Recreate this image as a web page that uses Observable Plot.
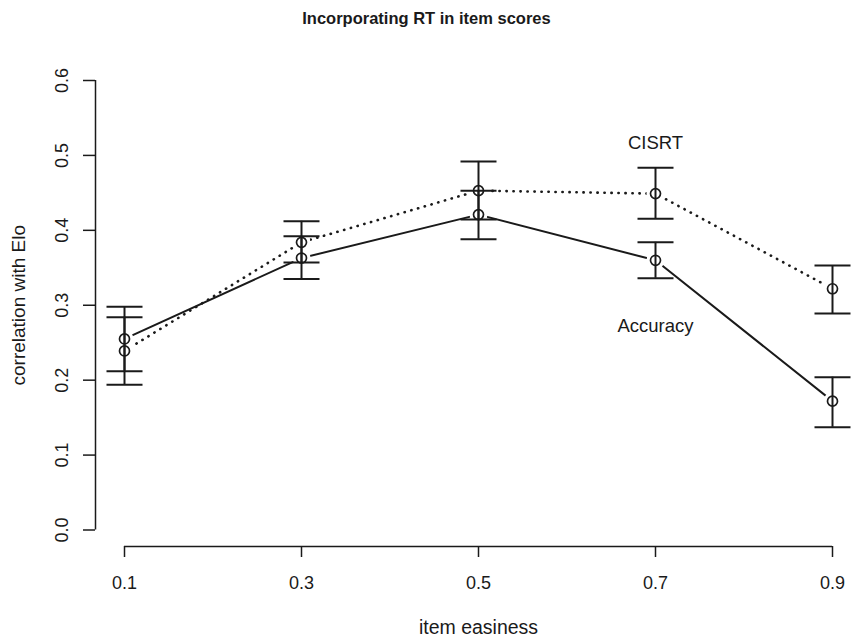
<!DOCTYPE html>
<html>
<head>
<meta charset="utf-8">
<script src="https://cdn.jsdelivr.net/npm/d3@7"></script>
<script src="https://cdn.jsdelivr.net/npm/@observablehq/plot@0.6"></script>
<style>
  html, body { margin: 0; padding: 0; background: #fff; }
  svg { display: block; }
</style>
</head>
<body>
<div id="chart"></div>
<script>
// ---- data ----
const easiness   = [0.1, 0.3, 0.5, 0.7, 0.9];
const accuracy   = [0.255, 0.363, 0.421, 0.360, 0.172];
const accuracyLo = [0.212, 0.335, 0.388, 0.336, 0.137];
const accuracyHi = [0.298, 0.392, 0.453, 0.384, 0.204];
const cisrt      = [0.239, 0.384, 0.453, 0.449, 0.322];
const cisrtLo    = [0.194, 0.357, 0.4145, 0.4155, 0.289];
const cisrtHi    = [0.284, 0.412, 0.492, 0.4836, 0.353];
const xTicks = [0.1, 0.3, 0.5, 0.7, 0.9];
const yTicks = [0.0, 0.1, 0.2, 0.3, 0.4, 0.5, 0.6];
const seriesLabels = ["CISRT", "Accuracy"];
const labelX = [0.7, 0.7];
const labelY = [0.517, 0.272];
const titleText = "Incorporating RT in item scores";
const xLabel = "item easiness";
const yLabel = "correlation with Elo";

const accRows = easiness.map((x, i) => ({series: "Accuracy", x, y: accuracy[i], lo: accuracyLo[i], hi: accuracyHi[i]}));
const cisRows = easiness.map((x, i) => ({series: "CISRT", x, y: cisrt[i], lo: cisrtLo[i], hi: cisrtHi[i]}));
const allRows = accRows.concat(cisRows);
const labelRows = seriesLabels.map((t, i) => ({t, x: labelX[i], y: labelY[i]}));

const ink = "#1a1a1a";
const font = "'Liberation Sans', Arial, Helvetica, sans-serif";
const capSymbol = {draw(ctx) { ctx.moveTo(-18, 0); ctx.lineTo(18, 0); }};
const fmt = d3.format(".1f");
const xMin = xTicks[0], xMax = xTicks[xTicks.length - 1];
const yMin = yTicks[0], yMax = yTicks[yTicks.length - 1];

const chart = Plot.plot({
  width: 852,
  height: 642,
  marginTop: 80,
  marginBottom: 112.5,
  marginLeft: 124,
  marginRight: 20,
  style: {fontFamily: font, color: ink, background: "white"},
  x: {domain: [xMin, xMax]},
  y: {domain: [yMin, yMax]},
  marks: [
    // axes (R style, detached from the plot region)
    Plot.axisY(yTicks, {tickSize: 12, tickFormat: () => "", label: null, dx: -29, stroke: ink, strokeWidth: 1.5}),
    Plot.ruleX([xMin], {y1: yMin, y2: yMax, dx: -29, stroke: ink, strokeWidth: 1.5}),
    Plot.text(yTicks, {y: d => d, text: d => fmt(d), frameAnchor: "left", textAnchor: "middle", dx: -62, rotate: -90, fontSize: 18, fill: ink}),
    Plot.axisX(xTicks, {tickSize: 11, tickFormat: () => "", label: null, dy: 16.5, stroke: ink, strokeWidth: 1.5}),
    Plot.ruleY([yMin], {x1: xMin, x2: xMax, dy: 16.5, stroke: ink, strokeWidth: 1.5}),
    Plot.text(xTicks, {x: d => d, text: d => fmt(d), frameAnchor: "bottom", dy: 59, fontSize: 18, fill: ink}),
    // titles
    Plot.text([titleText], {frameAnchor: "top", dx: -52, dy: -68, fontSize: 16.5, fontWeight: "bold", fill: ink}),
    Plot.text([xLabel], {frameAnchor: "bottom", dy: 104, fontSize: 19.5, fill: ink}),
    Plot.text([yLabel], {frameAnchor: "left", textAnchor: "middle", dx: -106, rotate: -90, fontSize: 19, fill: ink}),
    // series lines
    Plot.line(accRows, {x: "x", y: "y", stroke: ink, strokeWidth: 2}),
    Plot.line(cisRows, {x: "x", y: "y", stroke: ink, strokeWidth: 2.6, strokeLinecap: "round", strokeDasharray: "0.3,6.7"}),
    // gaps around points (R type="b")
    Plot.dot(allRows, {x: "x", y: "y", r: 5, fill: "white", stroke: "white", strokeWidth: 8}),
    // error bars
    Plot.ruleX(allRows, {x: "x", y1: "lo", y2: "hi", stroke: ink, strokeWidth: 2}),
    Plot.dot(allRows, {x: "x", y: "lo", symbol: capSymbol, fill: "none", stroke: ink, strokeWidth: 2}),
    Plot.dot(allRows, {x: "x", y: "hi", symbol: capSymbol, fill: "none", stroke: ink, strokeWidth: 2}),
    // points
    Plot.dot(allRows, {x: "x", y: "y", r: 5, fill: "none", stroke: ink, strokeWidth: 1.7}),
    // series labels
    Plot.text(labelRows, {x: "x", y: "y", text: "t", fontSize: 18.5, fill: ink})
  ]
});
document.getElementById("chart").appendChild(chart);
</script>
</body>
</html>
